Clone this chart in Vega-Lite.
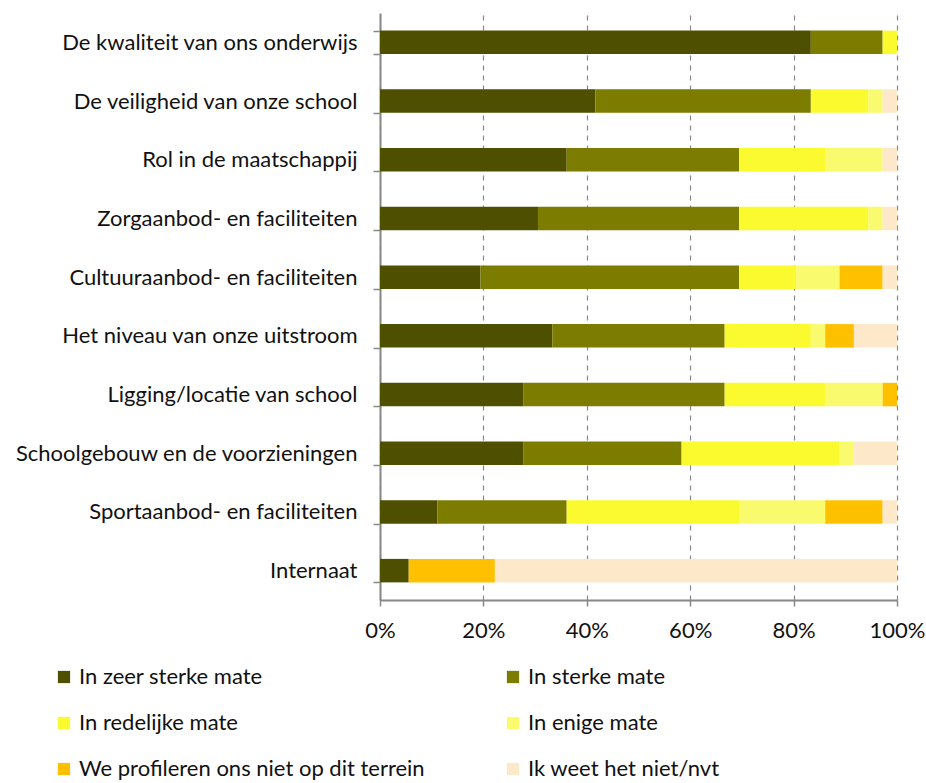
{
  "$schema": "https://vega.github.io/schema/vega-lite/v6.json",
  "width": 517,
  "height": 587,
  "autosize": "none",
  "padding": {"left": 380, "top": 13, "right": 29, "bottom": 183},
  "background": "white",
  "config": {
    "view": {"stroke": null},
    "font": "Lato",
    "axis": {"labelFont": "Lato", "labelFontSize": 22, "labelColor": "#111111"},
    "legend": {"labelFont": "Lato", "labelFontSize": 22, "labelColor": "#111111"}
  },
  "data": {
    "values": [
      {"cat": "De kwaliteit van ons onderwijs", "s": "In zeer sterke mate", "k": 1, "v": 30},
      {"cat": "De kwaliteit van ons onderwijs", "s": "In sterke mate", "k": 2, "v": 5},
      {"cat": "De kwaliteit van ons onderwijs", "s": "In redelijke mate", "k": 3, "v": 1},
      {"cat": "De veiligheid van onze school", "s": "In zeer sterke mate", "k": 1, "v": 15},
      {"cat": "De veiligheid van onze school", "s": "In sterke mate", "k": 2, "v": 15},
      {"cat": "De veiligheid van onze school", "s": "In redelijke mate", "k": 3, "v": 4},
      {"cat": "De veiligheid van onze school", "s": "In enige mate", "k": 4, "v": 1},
      {"cat": "De veiligheid van onze school", "s": "Ik weet het niet/nvt", "k": 6, "v": 1},
      {"cat": "Rol in de maatschappij", "s": "In zeer sterke mate", "k": 1, "v": 13},
      {"cat": "Rol in de maatschappij", "s": "In sterke mate", "k": 2, "v": 12},
      {"cat": "Rol in de maatschappij", "s": "In redelijke mate", "k": 3, "v": 6},
      {"cat": "Rol in de maatschappij", "s": "In enige mate", "k": 4, "v": 4},
      {"cat": "Rol in de maatschappij", "s": "Ik weet het niet/nvt", "k": 6, "v": 1},
      {"cat": "Zorgaanbod- en faciliteiten", "s": "In zeer sterke mate", "k": 1, "v": 11},
      {"cat": "Zorgaanbod- en faciliteiten", "s": "In sterke mate", "k": 2, "v": 14},
      {"cat": "Zorgaanbod- en faciliteiten", "s": "In redelijke mate", "k": 3, "v": 9},
      {"cat": "Zorgaanbod- en faciliteiten", "s": "In enige mate", "k": 4, "v": 1},
      {"cat": "Zorgaanbod- en faciliteiten", "s": "Ik weet het niet/nvt", "k": 6, "v": 1},
      {"cat": "Cultuuraanbod- en faciliteiten", "s": "In zeer sterke mate", "k": 1, "v": 7},
      {"cat": "Cultuuraanbod- en faciliteiten", "s": "In sterke mate", "k": 2, "v": 18},
      {"cat": "Cultuuraanbod- en faciliteiten", "s": "In redelijke mate", "k": 3, "v": 4},
      {"cat": "Cultuuraanbod- en faciliteiten", "s": "In enige mate", "k": 4, "v": 3},
      {"cat": "Cultuuraanbod- en faciliteiten", "s": "We profileren ons niet op dit terrein", "k": 5, "v": 3},
      {"cat": "Cultuuraanbod- en faciliteiten", "s": "Ik weet het niet/nvt", "k": 6, "v": 1},
      {"cat": "Het niveau van onze uitstroom", "s": "In zeer sterke mate", "k": 1, "v": 12},
      {"cat": "Het niveau van onze uitstroom", "s": "In sterke mate", "k": 2, "v": 12},
      {"cat": "Het niveau van onze uitstroom", "s": "In redelijke mate", "k": 3, "v": 6},
      {"cat": "Het niveau van onze uitstroom", "s": "In enige mate", "k": 4, "v": 1},
      {"cat": "Het niveau van onze uitstroom", "s": "We profileren ons niet op dit terrein", "k": 5, "v": 2},
      {"cat": "Het niveau van onze uitstroom", "s": "Ik weet het niet/nvt", "k": 6, "v": 3},
      {"cat": "Ligging/locatie van school", "s": "In zeer sterke mate", "k": 1, "v": 10},
      {"cat": "Ligging/locatie van school", "s": "In sterke mate", "k": 2, "v": 14},
      {"cat": "Ligging/locatie van school", "s": "In redelijke mate", "k": 3, "v": 7},
      {"cat": "Ligging/locatie van school", "s": "In enige mate", "k": 4, "v": 4},
      {"cat": "Ligging/locatie van school", "s": "We profileren ons niet op dit terrein", "k": 5, "v": 1},
      {"cat": "Schoolgebouw en de voorzieningen", "s": "In zeer sterke mate", "k": 1, "v": 10},
      {"cat": "Schoolgebouw en de voorzieningen", "s": "In sterke mate", "k": 2, "v": 11},
      {"cat": "Schoolgebouw en de voorzieningen", "s": "In redelijke mate", "k": 3, "v": 11},
      {"cat": "Schoolgebouw en de voorzieningen", "s": "In enige mate", "k": 4, "v": 1},
      {"cat": "Schoolgebouw en de voorzieningen", "s": "Ik weet het niet/nvt", "k": 6, "v": 3},
      {"cat": "Sportaanbod- en faciliteiten", "s": "In zeer sterke mate", "k": 1, "v": 4},
      {"cat": "Sportaanbod- en faciliteiten", "s": "In sterke mate", "k": 2, "v": 9},
      {"cat": "Sportaanbod- en faciliteiten", "s": "In redelijke mate", "k": 3, "v": 12},
      {"cat": "Sportaanbod- en faciliteiten", "s": "In enige mate", "k": 4, "v": 6},
      {"cat": "Sportaanbod- en faciliteiten", "s": "We profileren ons niet op dit terrein", "k": 5, "v": 4},
      {"cat": "Sportaanbod- en faciliteiten", "s": "Ik weet het niet/nvt", "k": 6, "v": 1},
      {"cat": "Internaat", "s": "In zeer sterke mate", "k": 1, "v": 2},
      {"cat": "Internaat", "s": "We profileren ons niet op dit terrein", "k": 5, "v": 6},
      {"cat": "Internaat", "s": "Ik weet het niet/nvt", "k": 6, "v": 28}
    ]
  },
  "mark": {"type": "bar"},
  "encoding": {
    "y": {
      "field": "cat", "type": "nominal", "sort": null,
      "scale": {"paddingInner": 0.6, "paddingOuter": 0.3},
      "axis": {
        "title": null, "domainColor": "#888888", "domainWidth": 2,
        "tickColor": "#888888", "tickWidth": 1.5, "tickSize": 7, "tickBand": "extent",
        "labelPadding": 16, "grid": false, "labelLimit": 400
      }
    },
    "x": {
      "field": "v", "type": "quantitative", "stack": "normalize",
      "scale": {"domain": [0, 1], "nice": false},
      "axis": {
        "title": null, "format": ".0%", "values": [0, 0.2, 0.4, 0.6, 0.8, 1],
        "domainColor": "#888888", "domainWidth": 2,
        "tickColor": "#888888", "tickWidth": 1.5, "tickSize": 6,
        "labelPadding": 14, "labelFlush": false,
        "grid": true, "gridColor": "#888888", "gridDash": [5, 5], "gridWidth": 1.2
      }
    },
    "color": {
      "field": "s", "type": "nominal",
      "scale": {
        "domain": ["In zeer sterke mate", "In redelijke mate", "We profileren ons niet op dit terrein", "In sterke mate", "In enige mate", "Ik weet het niet/nvt"],
        "range": ["#4F4F00", "#FAFA2E", "#FFC000", "#7C7C00", "#FAFA6E", "#FDE9C9"]
      },
      "legend": {
        "title": null, "orient": "none", "legendX": -327, "legendY": 653,
        "columns": 2, "columnPadding": 77, "rowPadding": 24,
        "symbolType": "square", "symbolSize": 150, "symbolStrokeWidth": 0,
        "labelOffset": 4, "labelLimit": 400
      }
    },
    "order": {"field": "k", "type": "quantitative"}
  }
}
